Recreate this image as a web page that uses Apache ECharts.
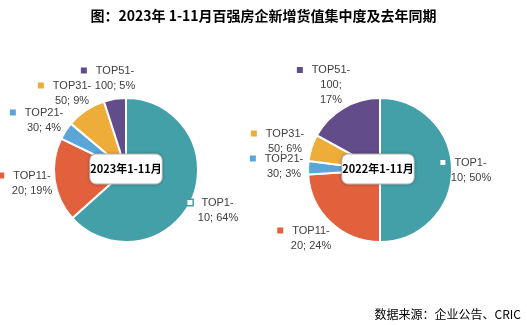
<!DOCTYPE html>
<html><head><meta charset="utf-8">
<script src="https://cdn.jsdelivr.net/npm/echarts@6/dist/echarts.min.js"></script>
<style>html,body{margin:0;padding:0;background:#fff}#c{width:527px;height:325px}</style>
</head><body><div id="c"></div>
<script>
const categories = ['TOP1-10', 'TOP11-20', 'TOP21-30', 'TOP31-50', 'TOP51-100'];
const values2023 = [64, 19, 4, 9, 5];
const values2022 = [50, 24, 3, 6, 17];
const centerLabels = ['2023年1-11月', '2022年1-11月'];
const titleText = '图：2023年 1-11月百强房企新增货值集中度及去年同期';
const sourceText = '数据来源：企业公告、CRIC';

const colors = ['#44A0A8', '#E2603C', '#5CA5D8', '#EEAD38', '#624C8A'];
// label text splitting (line breaks as in reference)
const labelText2023 = [['TOP1-', '10; 64%'], ['TOP11-', '20; 19%'], ['TOP21-', '30; 4%'], ['TOP31-', '50; 9%'], ['TOP51-', '100; 5%']];
const labelText2022 = [['TOP1-', '10; 50%'], ['TOP11-', '20; 24%'], ['TOP21-', '30; 3%'], ['TOP31-', '50; 6%'], ['TOP51-', '100;', '17%']];

// label anchor positions (layout)
const labelPos = [
  [[218, 210], [32, 183], [44, 120], [72, 93], [115, 78]],
  [[471, 170], [311, 238], [284, 166], [285, 141], [331, 85]]
];

function rich() {
  const r = {
    t: {fontSize: 11, color: '#404040', lineHeight: 15, fontFamily: 'Liberation Sans'},
    g: {width: 9},
    s: {width: 15}
  };
  colors.forEach((c, i) => {
    r['m' + i] = {width: 6, height: 6, backgroundColor: c};
  });
  r.m0 = {width: 5, height: 5, backgroundColor: '#fff', borderColor: '#44A0A8', borderWidth: 1.5};
  return r;
}

function makeSeries(idx, vals, texts, cx) {
  return {
    type: 'pie',
    center: [cx, 170],
    radius: [0, 72],
    startAngle: 90,
    clockwise: true,
    animation: false,
    avoidLabelOverlap: false,
    itemStyle: {borderColor: '#fff', borderWidth: 2},
    data: categories.map((c, i) => ({name: c, value: vals[i], itemStyle: {color: colors[i]}})),
    label: {
      show: true,
      position: 'outside',
      align: 'center',
      overflow: 'none',
      formatter: p => {
        const lines = texts[p.dataIndex];
        const first = '{m' + p.dataIndex + '|}{g|}{t|' + lines[0] + '}{s|}';
        return [first].concat(lines.slice(1).map(l => '{t|' + l + '}')).join('\n');
      },
      rich: rich()
    },
    labelLine: {show: false},
    labelLayout: p => {
      const pos = labelPos[idx][p.dataIndex];
      return {x: pos[0], y: pos[1], align: 'center', verticalAlign: 'middle', hideOverlap: false};
    },
    emphasis: {disabled: true}
  };
}

const chart = echarts.init(document.getElementById('c'), null, {renderer: 'canvas'});

function centerBox(cx, text) {
  return {
    type: 'text',
    x: cx, y: 169, z: 100,
    style: {
      text: text, fill: '#000', font: 'bold 11px "Noto Sans CJK SC"',
      align: 'center', verticalAlign: 'middle',
      backgroundColor: '#fff', borderColor: '#c8c8c8', borderWidth: 1, borderRadius: 6,
      padding: [9, 0, 9, 0],
      shadowBlur: 3, shadowColor: 'rgba(0,0,0,0.25)'
    }
  };
}

chart.setOption({
  backgroundColor: '#fff',
  title: {
    text: titleText, left: 'center', top: 4,
    textStyle: {fontSize: 14, fontWeight: 'bold', color: '#000', fontFamily: 'Noto Sans CJK SC'}
  },
  series: [
    makeSeries(0, values2023, labelText2023, 126),
    makeSeries(1, values2022, labelText2022, 380)
  ],
  graphic: [
    centerBox(126, centerLabels[0]),
    centerBox(378, centerLabels[1]),
    {type: 'text', right: 6, top: 308, z: 100,
     style: {text: sourceText, fill: '#000', font: '12px "Noto Sans CJK SC"'}}
  ]
});
</script></body></html>
